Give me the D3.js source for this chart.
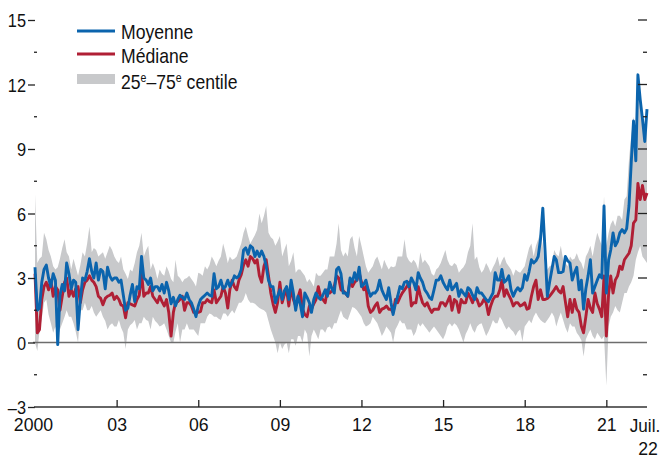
<!DOCTYPE html>
<html>
<head>
<meta charset="utf-8">
<script src="https://cdn.jsdelivr.net/npm/d3@7"></script>
<style>
body { margin: 0; background: #fff; }
text { font-family: "Liberation Sans", Arial, sans-serif; font-size: 19px; fill: #111; }
</style>
</head>
<body>
<svg width="663" height="455"></svg>
<script>
// monthly values, Jan 2000 .. Jul 2022
var first_month = new Date(2000, 0, 1)

var mean = [
  3.5,1.5,1.6,2.8,3.4,3.6,3.0,2.6,3.2,2.9,-0.1,2.2,
  2.7,2.4,3.7,3.2,2.5,2.9,2.8,0.6,2.0,3.0,2.9,3.3,
  3.9,3.3,3.0,3.7,2.9,3.4,3.3,2.5,3.5,3.1,2.9,3.0,
  3.0,2.8,2.9,2.2,1.5,1.6,2.2,2.7,1.9,2.6,2.5,4.0,
  3.0,2.9,2.7,3.0,2.4,2.6,2.6,2.4,2.7,2.3,2.8,2.4,
  1.8,2.1,1.7,2.0,2.2,2.1,2.0,2.3,2.0,1.85,1.55,1.2,
  1.7,2.0,2.1,2.2,2.3,2.2,2.15,3.2,2.5,2.6,2.9,2.5,
  2.6,2.9,2.6,2.8,3.1,3.0,3.1,3.4,4.3,4.4,4.1,4.5,
  4.4,4.0,4.25,4.0,4.25,4.0,3.55,2.9,2.6,2.6,1.85,2.15,
  2.45,2.0,2.4,2.6,2.0,2.9,2.3,1.5,2.15,1.8,1.2,2.3,
  2.1,1.85,1.4,2.0,2.3,2.1,2.0,2.2,2.45,2.15,2.8,2.5,
  2.3,3.4,3.5,3.2,2.3,2.3,2.15,3.0,2.8,3.25,2.9,3.5,
  2.6,2.7,2.9,2.45,2.15,2.3,2.3,2.45,2.9,2.45,2.2,2.0,
  2.55,1.85,1.3,1.8,2.15,2.6,2.5,2.8,2.85,2.6,3.0,2.8,
  2.45,3.25,3.0,2.8,2.45,2.3,2.1,2.0,2.45,2.9,2.9,3.1,
  2.8,2.6,2.45,2.9,2.45,2.6,2.75,2.15,2.45,2.3,2.15,2.55,
  2.45,2.2,2.0,2.55,2.3,2.3,2.15,2.0,1.9,2.1,2.3,3.25,
  2.9,2.9,3.4,2.8,2.9,3.1,2.45,2.15,2.4,2.55,2.4,2.55,
  3.15,2.9,3.3,3.85,3.7,3.8,4.0,4.8,6.25,4.3,2.15,2.8,
  3.4,4.0,3.85,3.25,3.25,3.3,4.0,3.8,3.7,2.9,3.25,3.5,
  2.45,2.9,1.55,2.5,3.1,3.85,2.3,2.6,2.9,3.15,3.0,6.35,
  2.3,3.85,4.3,5.1,4.5,4.7,5.1,5.25,5.1,5.3,6.35,8.35,
  10.3,8.45,12.45,11.3,10.4,9.35,10.85
]

var median = [
  3.2,0.45,0.6,2.0,2.6,2.8,2.45,2.9,2.15,2.6,2.45,1.5,
  2.15,2.8,3.0,2.15,2.45,2.15,2.5,2.6,1.85,2.45,2.8,2.9,
  3.1,2.9,2.8,2.6,2.15,2.05,1.75,2.05,2.15,2.2,2.3,2.0,
  2.15,2.0,1.75,1.7,1.15,1.85,1.8,1.75,1.7,2.0,2.2,3.25,
  2.15,2.3,2.3,2.6,2.15,2.0,1.85,2.15,1.9,1.7,2.0,1.4,
  0.3,1.4,1.85,1.9,2.0,2.15,1.5,1.85,1.85,1.7,1.4,1.4,
  1.4,1.45,1.85,1.85,2.0,1.9,1.85,2.45,1.85,2.0,2.15,2.6,
  2.3,1.6,2.45,2.9,2.6,2.45,2.9,3.15,3.6,3.85,3.55,4.0,
  3.9,3.7,3.85,3.1,2.8,3.55,3.85,3.1,2.3,1.8,1.4,1.85,
  2.8,1.85,2.2,2.45,1.7,2.6,2.0,1.7,2.1,2.45,1.55,1.3,
  1.2,1.7,1.55,1.8,2.0,2.6,2.15,2.0,1.85,2.45,2.3,2.4,
  2.6,3.1,3.0,2.45,2.4,2.3,2.15,2.9,2.6,2.8,2.9,3.25,
  2.8,2.45,2.6,1.7,1.4,1.5,1.7,1.85,1.4,1.55,1.6,1.7,
  1.55,1.55,1.4,2.0,1.85,2.1,2.3,2.45,2.6,2.8,1.7,1.85,
  1.85,2.6,2.2,1.85,1.7,1.85,1.6,1.4,1.55,1.55,1.55,1.85,
  1.85,1.7,1.9,2.15,1.5,2.0,1.9,1.4,2.0,1.85,1.85,2.3,
  2.1,1.85,2.15,2.0,1.7,1.8,2.0,1.85,1.3,1.7,2.0,2.15,
  2.15,2.45,2.9,2.15,2.45,2.2,2.0,1.7,1.85,1.85,1.7,1.75,
  1.85,1.55,1.6,2.15,2.6,2.9,2.0,2.45,2.0,2.0,2.05,2.15,
  2.3,2.45,2.6,2.4,2.3,2.6,1.9,1.2,2.0,1.4,2.0,1.55,
  1.4,0.75,0.45,1.2,2.0,1.6,1.4,2.3,1.8,1.55,1.2,3.1,
  0.3,2.3,3.1,2.3,2.9,3.1,3.55,3.4,3.85,4.0,4.15,4.5,
  5.55,5.7,7.4,6.65,7.3,6.65,6.95
]

var p75 = [
  6.9,3.7,3.9,4.0,5.1,4.8,4.3,4.0,3.55,3.4,3.5,3.9,
  4.4,4.8,4.2,4.0,3.4,3.9,3.5,3.1,3.6,4.2,4.0,4.6,
  5.4,4.2,4.4,4.3,4.0,4.1,4.2,3.9,4.2,4.5,4.3,4.0,
  3.8,3.7,4.0,3.4,3.2,2.95,3.4,3.3,3.7,4.2,4.5,5.1,
  4.0,4.3,4.5,3.4,3.7,3.4,2.95,3.4,3.2,3.1,3.55,3.3,
  2.95,2.8,3.85,3.1,3.0,2.8,2.95,3.0,3.1,2.95,2.8,2.6,
  3.25,3.2,3.1,3.55,3.4,3.6,4.0,3.8,3.55,3.8,4.0,4.6,
  4.2,3.7,4.0,3.85,3.9,4.0,4.3,4.6,5.1,5.4,4.95,4.6,
  4.8,5.0,5.25,6.0,5.55,5.9,6.35,5.1,4.9,4.8,4.5,4.7,
  4.95,4.0,4.3,4.6,3.55,3.8,4.2,3.25,3.4,3.4,3.25,3.1,
  2.8,2.95,2.8,2.6,3.25,3.1,3.1,3.25,3.4,3.4,4.0,4.0,
  4.0,4.6,5.55,4.3,4.0,4.2,4.0,4.8,4.95,4.4,4.0,4.95,
  4.5,4.0,3.55,3.25,3.4,3.55,3.85,4.0,3.7,3.4,3.85,3.6,
  3.4,3.55,3.5,3.55,4.0,4.0,4.0,4.8,4.0,3.8,3.7,3.85,
  3.7,3.4,4.2,3.7,3.85,3.7,3.55,3.2,3.1,3.4,3.5,3.7,
  4.0,4.3,3.85,3.6,3.55,3.7,3.6,3.25,3.4,3.5,3.7,4.2,
  4.5,5.55,3.85,4.0,3.5,3.25,3.4,3.7,3.5,3.25,3.5,3.7,
  4.0,3.55,3.8,4.0,3.7,3.55,3.4,3.1,3.4,3.3,3.25,3.4,
  3.55,4.0,4.4,4.6,4.0,4.5,4.8,5.1,4.5,3.25,3.4,3.55,
  3.6,4.3,4.1,4.0,4.5,3.85,3.7,3.55,4.0,3.85,3.9,4.15,
  3.85,3.7,3.4,4.0,4.2,4.5,4.0,4.6,5.1,4.8,4.5,6.8,
  4.5,5.1,5.5,5.7,5.4,5.9,5.9,5.7,6.65,6.8,8.5,9.6,
  10.5,9.8,11.8,11.0,10.5,10.0,10.2
]

var p25 = [
  0.0,-0.4,0.5,1.1,1.85,2.0,1.3,0.9,0.45,0.75,0.3,0.6,
  0.9,1.2,1.5,1.2,1.2,0.9,0.5,0.0,1.5,1.5,1.85,1.5,
  1.5,1.7,1.4,1.2,1.35,1.5,1.2,1.0,0.6,0.8,0.9,0.75,
  0.75,1.05,0.7,0.45,-0.3,0.6,0.8,0.9,1.05,0.6,0.9,0.9,
  1.2,1.05,1.0,0.6,1.2,1.0,0.9,0.75,0.8,0.9,0.6,0.3,
  0.0,0.0,0.5,0.9,0.0,0.6,0.6,0.9,0.6,0.6,0.6,0.45,
  0.3,0.9,0.9,0.9,1.2,1.35,1.3,1.2,1.2,1.1,1.05,1.35,
  1.35,1.2,1.35,1.5,1.35,1.6,1.85,1.85,2.0,2.3,2.0,1.85,
  1.85,1.8,1.7,1.6,1.55,1.5,1.4,1.0,0.6,0.3,0.0,-0.5,
  0.0,-0.3,-0.1,0.0,-0.5,0.15,0.15,-0.15,0.3,0.3,0.0,0.6,
  0.4,-0.65,0.3,0.6,0.4,0.15,0.6,0.6,0.45,0.7,0.75,0.6,
  0.9,0.9,1.2,1.5,1.2,1.1,1.05,1.35,1.65,1.6,1.5,1.35,
  1.2,0.9,0.75,0.8,0.9,1.2,1.05,0.9,0.6,0.3,0.5,0.75,
  0.6,0.45,0.0,0.6,0.8,1.05,0.9,0.9,0.6,0.6,0.6,0.3,
  0.5,0.9,0.75,0.9,0.75,0.6,0.45,0.6,0.75,0.6,0.45,0.3,
  0.15,0.4,0.75,0.9,0.75,0.9,0.8,0.6,0.3,0.0,0.4,0.6,
  0.9,0.6,0.45,0.75,0.85,0.9,0.6,0.3,0.5,0.75,1.05,0.9,
  0.9,1.2,1.05,0.8,0.6,0.75,0.6,0.5,0.3,0.5,0.6,0.05,
  0.75,0.9,1.05,0.9,1.2,1.4,1.2,1.05,0.95,0.9,1.05,1.2,
  1.4,1.2,0.75,1.1,1.4,1.05,0.7,0.45,0.9,0.75,0.75,0.45,
  0.3,0.1,-0.65,0.15,0.4,0.6,0.3,0.15,0.45,0.3,0.15,0.3,
  -2.0,0.75,1.2,1.4,1.7,1.5,1.4,1.85,2.3,2.3,2.6,2.8,
  3.1,3.85,4.2,4.5,4.0,3.85,3.7
]

var year_ticks = [2000, 2003, 2006, 2009, 2012, 2015, 2018, 2021]
var y_major = [-3, 0, 3, 6, 9, 12, 15]
var y_minor = [-1.5, 1.5, 4.5, 7.5, 10.5, 13.5]

var blue = '#0b64ad'
var red = '#b01f35'
var band_grey = '#c8c9cb'

var svg = d3.select('svg')

var x = d3.scaleTime()
    .domain([first_month, new Date(2022, 6, 1)])
    .range([35, 647])

var y = d3.scaleLinear()
    .domain([-3, 15])
    .range([407, 20])

var rows = mean.map((m, i) => {
    return {
        date: d3.timeMonth.offset(first_month, i),
        mean: m,
        median: median[i],
        lo: p25[i],
        hi: p75[i]
    }
})

// squeeze text horizontally, the original uses a narrow face
function narrow(sel, k){
    sel.each(function(){
        let w = this.getComputedTextLength()
        d3.select(this).attr('textLength', w * k).attr('lengthAdjust', 'spacingAndGlyphs')
    })
}

// band
svg.append('path')
    .datum(rows)
    .attr('d', d3.area().x(d => x(d.date)).y0(d => y(d.lo)).y1(d => y(d.hi)))
    .style('fill', band_grey)

// zero line
svg.append('line')
    .attr('x1', 33).attr('x2', 647)
    .attr('y1', y(0)).attr('y2', y(0))
    .style('stroke', '#6d6d6d')
    .style('stroke-width', 1.6)

function drawLine(key, colour){
    svg.append('path')
        .datum(rows)
        .attr('d', d3.line().x(d => x(d.date)).y(d => y(d[key])))
        .style('fill', 'none')
        .style('stroke', colour)
        .style('stroke-width', 2.9)
        .style('stroke-linejoin', 'round')
}
drawLine('median', red)
drawLine('mean', blue)

// left axis
var left = svg.append('g')
    .attr('transform', 'translate(35,0)')
    .call(d3.axisLeft(y).tickValues(y_major).tickSize(7).tickPadding(2)
        .tickFormat(d => d < 0 ? '\u2013' + Math.abs(d) : d))
left.select('.domain').remove()
left.selectAll('line').style('stroke', '#222').style('stroke-width', 1.3)
left.selectAll('text').style('font-size', '19px').style('fill', '#111').attr('dy', '0.36em')
narrow(left.selectAll('text'), 0.86)

svg.selectAll('.minor-left')
    .data(y_minor)
    .enter().append('line')
    .attr('x1', 34).attr('x2', 37)
    .attr('y1', d => y(d)).attr('y2', d => y(d))
    .style('stroke', '#222').style('stroke-width', 1.3)

// right ticks
svg.selectAll('.major-right')
    .data(y_major.filter(d => d > 0))
    .enter().append('line')
    .attr('x1', 638).attr('x2', 647)
    .attr('y1', d => y(d)).attr('y2', d => y(d))
    .style('stroke', '#222').style('stroke-width', 1.3)

svg.selectAll('.minor-right')
    .data(y_minor)
    .enter().append('line')
    .attr('x1', 643).attr('x2', 647)
    .attr('y1', d => y(d)).attr('y2', d => y(d))
    .style('stroke', '#222').style('stroke-width', 1.3)

// bottom axis
var bottom = svg.append('g')
    .attr('transform', 'translate(0,' + y(-3) + ')')
    .call(d3.axisBottom(x)
        .tickValues(year_ticks.map(yr => new Date(yr, 0, 1)))
        .tickSize(-7).tickPadding(11)
        .tickFormat(d => d.getFullYear() == 2000 ? '2000' : d3.timeFormat('%y')(d)))
bottom.select('.domain')
    .attr('d', 'M34,0H647')
    .style('stroke', '#333').style('stroke-width', 1.5)
bottom.selectAll('.tick line').style('stroke', '#222').style('stroke-width', 1.3)
bottom.selectAll('.tick').filter(d => d.getFullYear() == 2000).select('line').remove()
bottom.selectAll('.tick').filter(d => d.getFullYear() == 2000).select('text').attr('x', -2)
bottom.selectAll('text').style('font-size', '19px').style('fill', '#111')
narrow(bottom.selectAll('text'), 0.93)

var juil = svg.append('text')
    .attr('x', 645).attr('y', 432)
    .attr('text-anchor', 'middle')
    .text('Juil.')
var yy = svg.append('text')
    .attr('x', 648).attr('y', 455)
    .attr('text-anchor', 'middle')
    .text('22')
narrow(juil, 0.9)
narrow(yy, 0.93)

// legend
var legend = svg.append('g')
var squeeze = 0.88

legend.append('line')
    .attr('x1', 77).attr('x2', 115).attr('y1', 31).attr('y2', 31)
    .style('stroke', blue).style('stroke-width', 2.9)
legend.append('text')
    .attr('transform', `translate(121,39) scale(${squeeze},1)`)
    .style('font-size', '20px')
    .text('Moyenne')

legend.append('line')
    .attr('x1', 77).attr('x2', 115).attr('y1', 54).attr('y2', 54)
    .style('stroke', red).style('stroke-width', 2.9)
legend.append('text')
    .attr('transform', `translate(121,63) scale(${squeeze},1)`)
    .style('font-size', '20px')
    .text('Médiane')

legend.append('rect')
    .attr('x', 77).attr('y', 74).attr('width', 38).attr('height', 10)
    .style('fill', band_grey)
var centile = legend.append('text')
    .attr('transform', `translate(121,89) scale(${squeeze},1)`)
    .style('font-size', '20px')
centile.append('tspan').text('25')
centile.append('tspan').attr('dy', -7).style('font-size', '12px').text('e')
centile.append('tspan').attr('dy', 7).text('\u201375')
centile.append('tspan').attr('dy', -7).style('font-size', '12px').text('e')
centile.append('tspan').attr('dy', 7).text(' centile')
</script>
</body>
</html>
